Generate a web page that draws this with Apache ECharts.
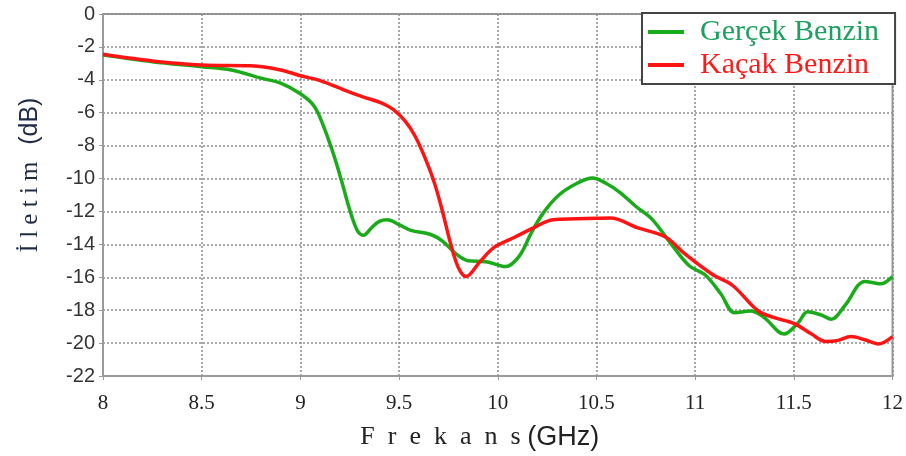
<!DOCTYPE html>
<html>
<head>
<meta charset="utf-8">
<script src="https://cdn.jsdelivr.net/npm/echarts@6/dist/echarts.min.js"></script>
<style>html,body{margin:0;padding:0;background:#fff}#c{width:906px;height:456px}</style>
</head>
<body>
<div id="c"></div>
<script>
const seriesNames = ['Gerçek Benzin', 'Kaçak Benzin'];
const xTicks = [8, 8.5, 9, 9.5, 10, 10.5, 11, 11.5, 12];
const yTicks = [0, -2, -4, -6, -8, -10, -12, -14, -16, -18, -20, -22];

const gercekFreq = [8.0, 8.25, 8.5, 8.65, 8.8, 8.9, 9.0, 9.07, 9.12, 9.17, 9.21, 9.25, 9.29, 9.32, 9.36, 9.40, 9.44, 9.50, 9.56, 9.66, 9.72, 9.79, 9.85, 9.94, 10.04, 10.11, 10.17, 10.23, 10.31, 10.40, 10.48, 10.55, 10.62, 10.70, 10.78, 10.88, 10.97, 11.05, 11.13, 11.20, 11.28, 11.35, 11.45, 11.52, 11.57, 11.64, 11.69, 11.76, 11.86, 11.94, 12.0];
const gercekDb = [-2.5, -2.9, -3.2, -3.4, -3.9, -4.2, -4.85, -5.6, -6.9, -8.6, -10.2, -11.9, -13.2, -13.45, -13.0, -12.6, -12.5, -12.8, -13.15, -13.4, -13.8, -14.6, -15.0, -15.05, -15.35, -14.7, -13.3, -12.1, -11.0, -10.3, -9.97, -10.3, -10.85, -11.7, -12.45, -14.0, -15.3, -15.85, -17.0, -18.15, -18.05, -18.45, -19.45, -18.8, -18.1, -18.3, -18.55, -17.7, -16.25, -16.4, -15.95];

const kacakFreq = [8.0, 8.25, 8.5, 8.75, 8.9, 9.0, 9.1, 9.24, 9.32, 9.41, 9.47, 9.53, 9.58, 9.63, 9.68, 9.72, 9.76, 9.80, 9.84, 9.91, 9.98, 10.08, 10.18, 10.28, 10.40, 10.50, 10.57, 10.71, 10.85, 10.95, 11.09, 11.19, 11.32, 11.40, 11.50, 11.59, 11.66, 11.72, 11.79, 11.86, 11.93, 12.0];
const kacakDb = [-2.45, -2.85, -3.1, -3.15, -3.4, -3.75, -4.05, -4.7, -5.05, -5.4, -5.8, -6.5, -7.4, -8.7, -10.3, -12.0, -13.9, -15.4, -15.95, -15.05, -14.2, -13.6, -13.0, -12.5, -12.45, -12.42, -12.4, -13.0, -13.55, -14.6, -15.85, -16.5, -18.05, -18.45, -18.8, -19.45, -19.9, -19.85, -19.6, -19.8, -20.05, -19.6];

const zip = (a, b) => a.map((v, i) => [v, b[i]]);
const GREEN = '#1aab1a', RED = '#ff1414';

const chart = echarts.init(document.getElementById('c'), null, {renderer: 'canvas'});
chart.setOption({
  animation: false,
  backgroundColor: '#fff',
  grid: {left: 103, right: 12, top: 14, bottom: 77, show: true, borderColor: '#9a9a9a', borderWidth: 2, backgroundColor: 'transparent'},
  xAxis: {
    type: 'value', min: xTicks[0], max: xTicks[xTicks.length - 1], interval: 0.5,
    name: '{a|F  r  e  k  a  n  s}  {b|(GHz)}', nameLocation: 'middle', nameGap: 48,
    nameTextStyle: {padding: [0, 36, 0, 0], rich: {
      a: {fontFamily: 'Liberation Serif', fontSize: 26, color: '#222'},
      b: {fontFamily: 'Liberation Sans Narrow, Liberation Sans', fontSize: 27, color: '#222'}
    }},
    axisLine: {onZero: false, lineStyle: {color: '#9a9a9a', width: 2}},
    axisTick: {show: true, inside: false, length: 4, lineStyle: {color: '#9a9a9a'}},
    axisLabel: {fontFamily: 'Liberation Serif', fontSize: 21, color: '#222', margin: 17},
    splitLine: {show: true, lineStyle: {color: '#8c8c8c', type: [2, 2], width: 1.5}}
  },
  yAxis: {
    type: 'value', min: yTicks[yTicks.length - 1], max: yTicks[0], interval: 2,
    name: '{a|İ l e t i m}     {b|(dB)}', nameLocation: 'middle', nameGap: 60,
    nameTextStyle: {padding: [0, 0, 0, 40], rich: {
      a: {fontFamily: 'Liberation Serif', fontSize: 25, color: '#1f2a44'},
      b: {fontFamily: 'Liberation Sans', fontSize: 25, color: '#1f2a44'}
    }},
    axisLine: {onZero: false, lineStyle: {color: '#9a9a9a', width: 2}},
    axisTick: {show: true, inside: false, length: 4, lineStyle: {color: '#9a9a9a'}},
    axisLabel: {fontFamily: 'Liberation Sans', fontSize: 20, color: '#333', margin: 8},
    splitLine: {show: true, lineStyle: {color: '#8c8c8c', type: [2, 2], width: 1.5}}
  },
  legend: {
    left: 642, top: 13, orient: 'vertical',
    backgroundColor: '#fff', borderColor: '#444', borderWidth: 2,
    padding: [4, 16, 4, 6], itemGap: 3,
    itemWidth: 36, itemHeight: 4, icon: 'rect',
    data: seriesNames,
    formatter: n => (n === seriesNames[0] ? '{g|' + n + '}' : '{r|' + n + '}'),
    textStyle: {padding: [0, 0, 0, 11], rich: {
      g: {fontFamily: 'Liberation Serif', fontSize: 30, color: '#1ea060'},
      r: {fontFamily: 'Liberation Serif', fontSize: 30, color: '#ff1a1a'}
    }}
  },
  series: [
    {name: seriesNames[0], type: 'line', data: zip(gercekFreq, gercekDb), smooth: 0.35, showSymbol: false, lineStyle: {color: GREEN, width: 3.5}, itemStyle: {color: GREEN}, z: 3},
    {name: seriesNames[1], type: 'line', data: zip(kacakFreq, kacakDb), smooth: 0.35, showSymbol: false, lineStyle: {color: RED, width: 3.5}, itemStyle: {color: RED}, z: 4}
  ]
});
</script>
</body>
</html>
